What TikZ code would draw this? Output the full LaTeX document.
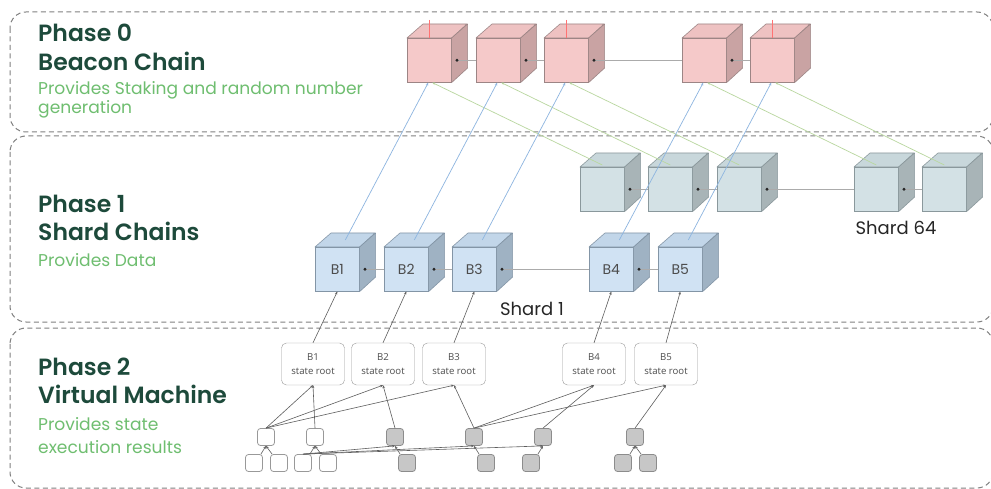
\documentclass[tikz,border=0pt]{standalone}
\usepackage{fontspec}
\setmainfont{Poppins}[BoldFont={Poppins SemiBold}]
\newfontfamily\smallf{Open Sans}
\usetikzlibrary{arrows.meta}
\definecolor{pinkF}{HTML}{F5C9C9}
\definecolor{pinkS}{HTML}{C9A3A3}
\definecolor{pinkT}{HTML}{EEC2C2}
\definecolor{pinkE}{HTML}{9C8585}
\definecolor{greyF}{HTML}{D3E1E5}
\definecolor{greyS}{HTML}{A8B4B7}
\definecolor{greyT}{HTML}{C8D7DB}
\definecolor{greyE}{HTML}{8A989C}
\definecolor{blueF}{HTML}{D0E2F3}
\definecolor{blueS}{HTML}{9FB2C3}
\definecolor{blueT}{HTML}{C2D6E9}
\definecolor{blueE}{HTML}{8395A6}
\definecolor{darkgreen}{HTML}{1D4A3B}
\definecolor{lightgreen}{HTML}{6FBE70}
\definecolor{dashgrey}{HTML}{808080}
\definecolor{linkblue}{HTML}{8DB5E0}
\definecolor{linkgreen}{HTML}{B9D79F}
\definecolor{chaingrey}{HTML}{ABABAB}
\definecolor{treegrey}{HTML}{5E5E5E}
\newcommand{\mkcube}[5]{%
  \node[cubefront, fill=#4F, draw=#4E] (#1) at (#2,#3) {#5};
  \filldraw[fill=#4T, draw=#4E, line width=0.6pt, line join=round] (#1.north west) -- ++(16,-14) -- ++(44,0) -- (#1.north east) -- cycle;
  \filldraw[fill=#4S, draw=#4E, line width=0.6pt, line join=round] (#1.north east) -- ++(16,-14) -- ++(0,44) -- (#1.south east) -- cycle;
}
\begin{document}
\begin{tikzpicture}[x=1pt,y=-1pt,
  phasebox/.style={draw=dashgrey, line width=1pt, dash pattern=on 5pt off 3.5pt, rounded corners=16pt},
  title/.style={anchor=base west, inner sep=0pt, text=darkgreen, font=\fontsize{23.5}{27}\selectfont\bfseries},
  subtitle/.style={anchor=base west, inner sep=0pt, text=lightgreen, font=\fontsize{17.1}{20}\selectfont},
  cubefront/.style={anchor=north west, minimum width=44pt, minimum height=44pt, inner sep=0pt, line width=0.6pt, text=black!70, font=\fontsize{14}{16}\selectfont},
  chain/.style={draw=chaingrey, line width=1pt, -{Circle[length=2.8pt, fill=black!85, color=black!85]}},
  bluelink/.style={draw=linkblue, line width=0.7pt, -{Stealth[length=3pt, width=2.5pt]}},
  greenlink/.style={draw=linkgreen, line width=0.7pt, -{Stealth[length=3pt, width=2.5pt]}},
  redline/.style={draw=red!55, line width=0.6pt},
  rootbox/.style={draw=black!40, fill=white, rounded corners=5pt, minimum width=63pt, minimum height=42pt, inner sep=0pt, align=center, text=black!70, font=\smallf\fontsize{9.6}{14}\selectfont},
  wbox/.style={draw=black!40, fill=white, rounded corners=3pt, minimum size=17pt, inner sep=0pt, line width=0.8pt},
  gbox/.style={draw=black!45, fill=black!22, rounded corners=3pt, minimum size=17pt, inner sep=0pt, line width=0.8pt},
  treeline/.style={draw=treegrey, line width=0.6pt, -{Stealth[length=3pt, width=2.5pt]}},
  shardlabel/.style={anchor=base, inner sep=0pt, text=black!85, font=\fontsize{18}{20}\selectfont}
]
\path[use as bounding box] (0,0) rectangle (991,489);
\clip (0,0) rectangle (991,489);
\fill[white] (0,0) rectangle (991,489);

% phase frames
\draw[phasebox] (10,12) rectangle (993,132);
\draw[phasebox] (10,136) rectangle (993,322);
\draw[phasebox] (10,328) rectangle (993,488);

% texts
\node[title] (t0a) at (38,42) {Phase 0};
\node[title] (t0b) at (38,71) {Beacon Chain};
\node[subtitle] (t0c) at (38,95) {Provides Staking and random number};
\node[subtitle] (t0d) at (38,114) {generation};
\node[title] (t1a) at (38,213) {Phase 1};
\node[title] (t1b) at (38,241) {Shard Chains};
\node[subtitle] (t1c) at (38,267) {Provides Data};
\node[title] (t2a) at (38,375) {Phase 2};
\node[title] (t2b) at (38,403) {Virtual Machine};
\node[subtitle] (t2c) at (38,430) {Provides state};
\node[subtitle] (t2d) at (38,453) {execution results};

% beacon chain cubes
\mkcube{p1}{407}{38}{pink}{}
\mkcube{p2}{476}{38}{pink}{}
\mkcube{p3}{544}{38}{pink}{}
\mkcube{p4}{682}{38}{pink}{}
\mkcube{p5}{750}{38}{pink}{}
% shard 64 cubes
\mkcube{q1}{580}{167}{grey}{}
\mkcube{q2}{648}{167}{grey}{}
\mkcube{q3}{717}{167}{grey}{}
\mkcube{q4}{854}{167}{grey}{}
\mkcube{q5}{922}{167}{grey}{}
% shard 1 cubes
\mkcube{s1}{315}{247}{blue}{B1}
\mkcube{s2}{384}{247}{blue}{B2}
\mkcube{s3}{452}{247}{blue}{B3}
\mkcube{s4}{589}{247}{blue}{B4}
\mkcube{s5}{658}{247}{blue}{B5}

% chain links
\foreach \c in {p,q,s}{
  \draw[chain] (\c2.west) -- ([xshift=4pt]\c1.east);
  \draw[chain] (\c3.west) -- ([xshift=4pt]\c2.east);
  \draw[chain] (\c4.west) -- ([xshift=4pt]\c3.east);
  \draw[chain] (\c5.west) -- ([xshift=4pt]\c4.east);
}

% red marks on beacon cubes
\foreach \i in {1,3,5}{
  \draw[redline] ([yshift=18pt]p\i.north) -- (p\i.north);
}

% cross links
\foreach \i in {1,...,5}{
  \draw[greenlink] ([yshift=2pt]q\i.north) -- ([xshift=3pt]p\i.south);
  \draw[bluelink] ([shift={(8,-7)}]s\i.north) -- ([xshift=-1pt]p\i.south);
}

\node[shardlabel] (sh1) at (532,315) {Shard 1};
\node[shardlabel] (sh64) at (896,235) {Shard 64};

% state roots
\node[rootbox] (r1) at (313,364) {B1\\state root};
\node[rootbox] (r2) at (383,364) {B2\\state root};
\node[rootbox] (r3) at (454,364) {B3\\state root};
\node[rootbox] (r4) at (594,364) {B4\\state root};
\node[rootbox] (r5) at (666,364) {B5\\state root};
\foreach \i in {1,...,5}{
  \draw[treeline] (r\i.north) -- (s\i.south);
}

% state tree nodes
\node[wbox] (w1) at (266,437) {};
\node[wbox] (w2) at (315,437) {};
\node[gbox] (g1) at (395,437) {};
\node[gbox] (g2) at (474,437) {};
\node[gbox] (g3) at (543,437) {};
\node[gbox] (g4) at (635,437) {};
\node[wbox] (a1) at (254,463) {};
\node[wbox] (a2) at (279,463) {};
\node[wbox] (a3) at (303,463) {};
\node[wbox] (a4) at (328,463) {};
\node[gbox] (c1) at (407,463) {};
\node[gbox] (c2) at (486,463) {};
\node[gbox] (c3) at (531,463) {};
\node[gbox] (c4) at (623,463) {};
\node[gbox] (c5) at (648,463) {};

\draw[treeline] (w1.north) -- (r1.south);
\draw[treeline] (w1.north) -- (r2.south);
\draw[treeline] (w1.north) -- (r3.south);
\draw[treeline] (w2.north) -- (r1.south);
\draw[treeline] (g1.north) -- (r2.south);
\draw[treeline] (g2.north) -- (r3.south);
\draw[treeline] (g2.north) -- (r4.south);
\draw[treeline] (g2.north) -- (r5.south);
\draw[treeline] (g3.north) -- (r4.south);
\draw[treeline] (g4.north) -- (r5.south);

\draw[treeline] ([xshift=-2pt]a1.north east) -- (w1.south);
\draw[treeline] ([xshift=2pt]a2.north west) -- (w1.south);
\draw[treeline] ([xshift=-2pt]a3.north east) -- (w2.south);
\draw[treeline] ([xshift=2pt]a4.north west) -- (w2.south);
\draw[treeline] (a3.north) -- (g1.south);
\draw[treeline] (a3.north) -- (g2.south);
\draw[treeline] (a3.north) -- (g3.south);
\draw[treeline] ([xshift=2pt]c1.north west) -- (g1.south);
\draw[treeline] ([xshift=2pt]c2.north west) -- (g2.south);
\draw[treeline] ([xshift=-2pt]c3.north east) -- (g3.south);
\draw[treeline] ([xshift=-2pt]c4.north east) -- (g4.south);
\draw[treeline] ([xshift=2pt]c5.north west) -- (g4.south);
\end{tikzpicture}
\end{document}
